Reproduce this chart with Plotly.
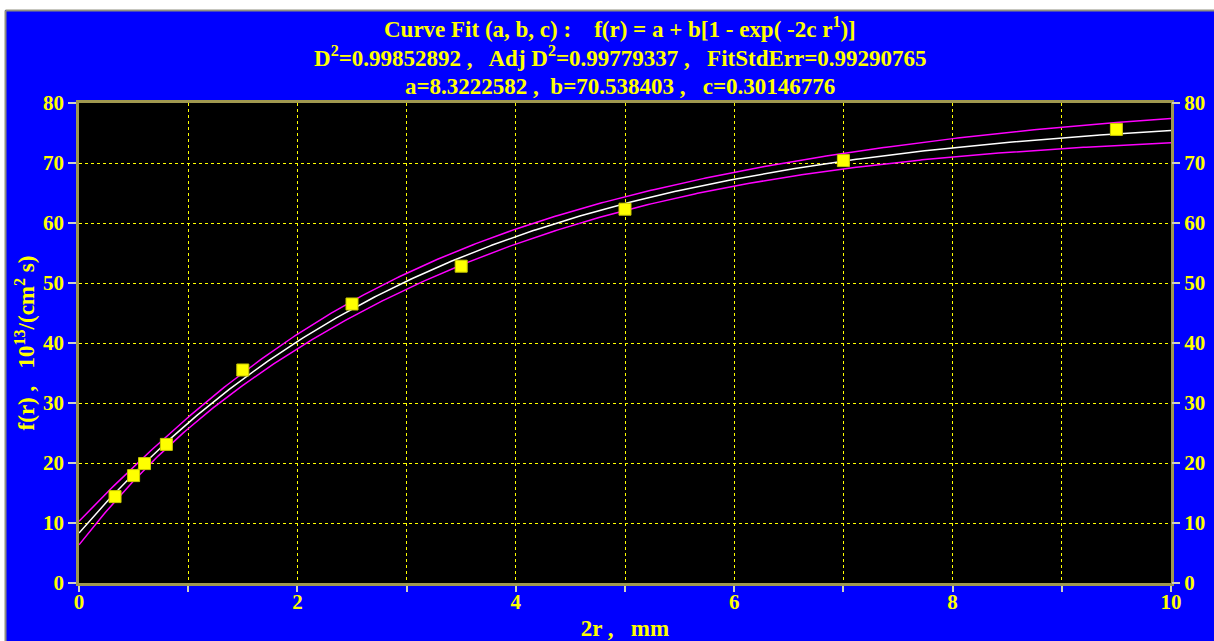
import numpy as np
import plotly.graph_objects as go

# measured points: 2r (mm) vs f(r)
x_data = [0.33, 0.5, 0.6, 0.8, 1.5, 2.5, 3.5, 5.0, 7.0, 9.5]
y_data = [14.4, 17.9, 19.9, 23.1, 35.5, 46.5, 52.8, 62.3, 70.4, 75.6]

# fit parameters and statistics
a_fit = 8.3222582
b_fit = 70.538403
c_fit = 0.30146776
d2 = 0.99852892
adj_d2 = 0.99779337
fit_std_err = 0.99290765

x_ticks = list(range(0, 11))
x_ticktext = [str(v) if v % 2 == 0 else "" for v in x_ticks]
y_ticks = list(range(0, 90, 10))

YEL = "#FFFF00"
BLUE = "#0000FF"
FRAME = "#A09850"
TICKC = "#D0D0C0"
FONT = "Liberation Serif"

# fitted curve f = a + b[1 - exp(-2c r)], plotted against 2r
xs = np.linspace(0, 10, 400)
fit = a_fit + b_fit * (1 - np.exp(-c_fit * xs))

# 95% confidence band via the parameter covariance
xd = np.asarray(x_data)
J = np.column_stack([np.ones_like(xd), 1 - np.exp(-c_fit * xd), b_fit * xd * np.exp(-c_fit * xd)])
cov = fit_std_err ** 2 * np.linalg.inv(J.T @ J)
G = np.column_stack([np.ones_like(xs), 1 - np.exp(-c_fit * xs), b_fit * xs * np.exp(-c_fit * xs)])
half = 2.3646 * np.sqrt(np.einsum("ij,jk,ik->i", G, cov, G))

fig = go.Figure()
fig.add_trace(go.Scatter(x=xs, y=fit + half, mode="lines", line=dict(color="#FF00FF", width=1.5), hoverinfo="skip"))
fig.add_trace(go.Scatter(x=xs, y=fit - half, mode="lines", line=dict(color="#FF00FF", width=1.5), hoverinfo="skip"))
fig.add_trace(go.Scatter(x=xs, y=fit, mode="lines", line=dict(color="#FFFFFF", width=1.5)))
fig.add_trace(go.Scatter(x=x_data, y=y_data, mode="markers",
                         marker=dict(symbol="square", size=12, color=YEL,
                                     line=dict(color="#C8C800", width=1))))
# companion trace so the right-hand axis is drawn
fig.add_trace(go.Scatter(x=[0], y=[0], yaxis="y2", mode="markers",
                         marker=dict(opacity=0), hoverinfo="skip"))

tick_font = dict(family=FONT, size=21, color=YEL, weight="bold")
label_font = dict(family=FONT, size=23, color=YEL, weight="bold")

fig.update_layout(
    width=1214, height=641,
    margin=dict(l=79, r=43, t=103, b=58),
    paper_bgcolor=BLUE, plot_bgcolor="#000000",
    showlegend=False,
    font=dict(family=FONT, color=YEL, weight="bold"),
    xaxis=dict(
        range=[0, 10], tickvals=x_ticks, ticktext=x_ticktext,
        ticks="outside", ticklen=6, tickcolor=TICKC, tickwidth=1.5,
        showline=True, linecolor=FRAME, linewidth=2.5, mirror=True,
        showgrid=True, gridcolor=YEL, griddash="dot", gridwidth=1,
        zeroline=False, tickfont=tick_font, automargin=False,
        ticklabelstandoff=-8,
        title=dict(text="2r ,\u00a0\u00a0 mm", font=label_font, standoff=7),
    ),
    yaxis=dict(
        range=[0, 80], tickvals=y_ticks,
        ticks="outside", ticklen=8, tickcolor=TICKC, tickwidth=1.5,
        showline=True, linecolor=FRAME, linewidth=2.5, mirror=True,
        showgrid=True, gridcolor=YEL, griddash="dot", gridwidth=1,
        zeroline=False, tickfont=tick_font, automargin=False,
        title=dict(text="f(r) ,\u00a0\u00a0 10<sup>13</sup>/(cm<sup>2</sup> s)",
                   font=label_font, standoff=2),
    ),
    yaxis2=dict(
        range=[0, 80], tickvals=y_ticks, overlaying="y", side="right",
        ticks="outside", ticklen=8, tickcolor=TICKC, tickwidth=1.5,
        showgrid=False, zeroline=False, tickfont=tick_font, showline=False,
        automargin=False,
    ),
)

title_lines = [
    "Curve Fit (a, b, c) :\u00a0\u00a0\u00a0 f(r) = a + b[1 - exp( -2c r<sup>1</sup>)]",
    f"D<sup>2</sup>={d2:.8f} ,\u00a0\u00a0 Adj D<sup>2</sup>={adj_d2:.8f} ,\u00a0\u00a0 FitStdErr={fit_std_err:.8f}",
    f"a={a_fit:.7f} ,\u00a0 b={b_fit:.6f} ,\u00a0\u00a0 c={c_fit:.8f}",
]
title_px = [27, 57, 87]
for txt, py in zip(title_lines, title_px):
    fig.add_annotation(text=txt, xref="paper", yref="paper", x=(620 - 79) / 1092, y=1 + (103 - py) / 480,
                       xanchor="center", yanchor="middle", showarrow=False,
                       font=dict(family=FONT, size=23, color=YEL, weight="bold"))

# white strip along the top and left edges with a grey frame line
fig.add_shape(type="rect", xref="paper", yref="paper", x0=-79 / 1092, x1=1 + 43 / 1092,
              y0=1 + 93 / 480, y1=1 + 103 / 480, fillcolor="#FFFFFF", line=dict(width=0), layer="below")
fig.add_shape(type="rect", xref="paper", yref="paper", x0=-79 / 1092, x1=-74 / 1092,
              y0=-58 / 480, y1=1 + 103 / 480, fillcolor="#FFFFFF", line=dict(width=0), layer="below")
fig.add_shape(type="line", xref="paper", yref="paper", x0=-73.5 / 1092, x1=1 + 43 / 1092,
              y0=1 + 92.5 / 480, y1=1 + 92.5 / 480, line=dict(color="#909080", width=2))
fig.add_shape(type="line", xref="paper", yref="paper", x0=-73.5 / 1092, x1=-73.5 / 1092,
              y0=-58 / 480, y1=1 + 92.5 / 480, line=dict(color="#909080", width=2))

fig.write_html("out.html")
